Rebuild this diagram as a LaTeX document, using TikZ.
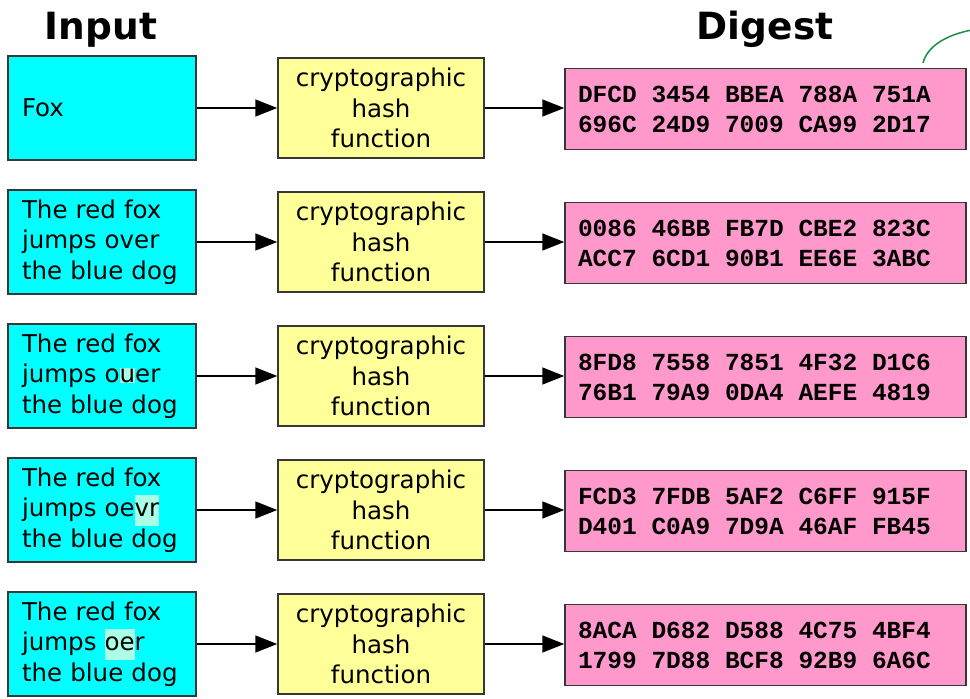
\documentclass[tikz,border=0pt]{standalone}
\usepackage{fontspec}
\setmainfont{DejaVu Sans}
\newfontfamily\digestfont{Liberation Mono}
\usetikzlibrary{arrows.meta}
\definecolor{inputcyan}{RGB}{0,255,255}
\definecolor{hashyellow}{RGB}{255,255,153}
\definecolor{digestpink}{RGB}{255,153,204}
\definecolor{boxborder}{RGB}{55,55,55}
\definecolor{changed}{RGB}{170,255,230}
\definecolor{curvegreen}{RGB}{30,140,70}
\newcommand{\changedtext}[1]{{\setlength{\fboxsep}{0pt}\colorbox{changed}{#1}}}
\newcommand{\widespaces}{\setlength{\spaceskip}{0.6em}}

\begin{document}
\begin{tikzpicture}[x=1pt, y=-1pt,
    inputbox/.style ={rectangle, draw=boxborder, line width=1.5pt, fill=inputcyan,
      minimum width=188pt, minimum height=104pt, inner xsep=14pt, text width=160pt,
      align=left, font=\fontsize{24.5}{30.5}\selectfont},
    hashbox/.style ={rectangle, draw=boxborder, line width=1.5pt, fill=hashyellow,
      minimum width=206pt, minimum height=100pt, inner xsep=0pt, text width=196pt,
      align=center, font=\fontsize{24.5}{30.5}\selectfont},
    digestbox/.style ={rectangle, draw=boxborder, line width=1.5pt, fill=digestpink,
      minimum width=401pt, minimum height=81pt, inner xsep=13pt, text width=375pt,
      align=left, font=\digestfont\bfseries\fontsize{24.5}{30}\selectfont,
      execute at begin node=\widespaces},
    title/.style ={anchor=base, font=\bfseries\fontsize{37.5}{40}\selectfont},
    flow/.style ={line width=1.5pt, -{Triangle[length=22pt,width=17pt]}}]
   \useasboundingbox (0,0) rectangle (970,699);
   \node[title] (input) at (101,39) {Input};
   \node[title] (digest) at (765,39) {Digest};
   \node[inputbox] (in1) at (102,108) {Fox};
   \node[inputbox] (in2) at (102,242) {The red fox\\jumps over\\the blue dog};
   \node[inputbox] (in3) at (102,376) {The red fox\\jumps o\changedtext{\rule{0pt}{0.62em}u}er\\the blue dog};
   \node[inputbox] (in4) at (102,510) {The red fox\\jumps oe\changedtext{\strut vr}\\the blue dog};
   \node[inputbox] (in5) at (102,644) {The red fox\\jumps \changedtext{\strut oe}r\\the blue dog};
   \node[hashbox] (hash1) at (381,108) {cryptographic\\hash\\function};
   \node[hashbox] (hash2) at (381,242) {cryptographic\\hash\\function};
   \node[hashbox] (hash3) at (381,376) {cryptographic\\hash\\function};
   \node[hashbox] (hash4) at (381,510) {cryptographic\\hash\\function};
   \node[hashbox] (hash5) at (381,644) {cryptographic\\hash\\function};
   \node[digestbox] (dig1) at (765.5,109) {DFCD 3454 BBEA 788A 751A\\696C 24D9 7009 CA99 2D17};
   \node[digestbox] (dig2) at (765.5,243) {0086 46BB FB7D CBE2 823C\\ACC7 6CD1 90B1 EE6E 3ABC};
   \node[digestbox] (dig3) at (765.5,377) {8FD8 7558 7851 4F32 D1C6\\76B1 79A9 0DA4 AEFE 4819};
   \node[digestbox] (dig4) at (765.5,511) {FCD3 7FDB 5AF2 C6FF 915F\\D401 C0A9 7D9A 46AF FB45};
   \node[digestbox] (dig5) at (765.5,645) {8ACA D682 D588 4C75 4BF4\\1799 7D88 BCF8 92B9 6A6C};
   \draw[flow] (in1) to (hash1);
   \draw[flow] (in2) to (hash2);
   \draw[flow] (in3) to (hash3);
   \draw[flow] (in4) to (hash4);
   \draw[flow] (in5) to (hash5);
   \draw[flow] (hash1) to (hash1 -| dig1.west);
   \draw[flow] (hash2) to (hash2 -| dig2.west);
   \draw[flow] (hash3) to (hash3 -| dig3.west);
   \draw[flow] (hash4) to (hash4 -| dig4.west);
   \draw[flow] (hash5) to (hash5 -| dig5.west);
   \draw[draw=curvegreen, line width=1.5pt] (923,63) .. controls (927,47) and (945,35) .. (972,30);
 \end{tikzpicture}
\end{document}
